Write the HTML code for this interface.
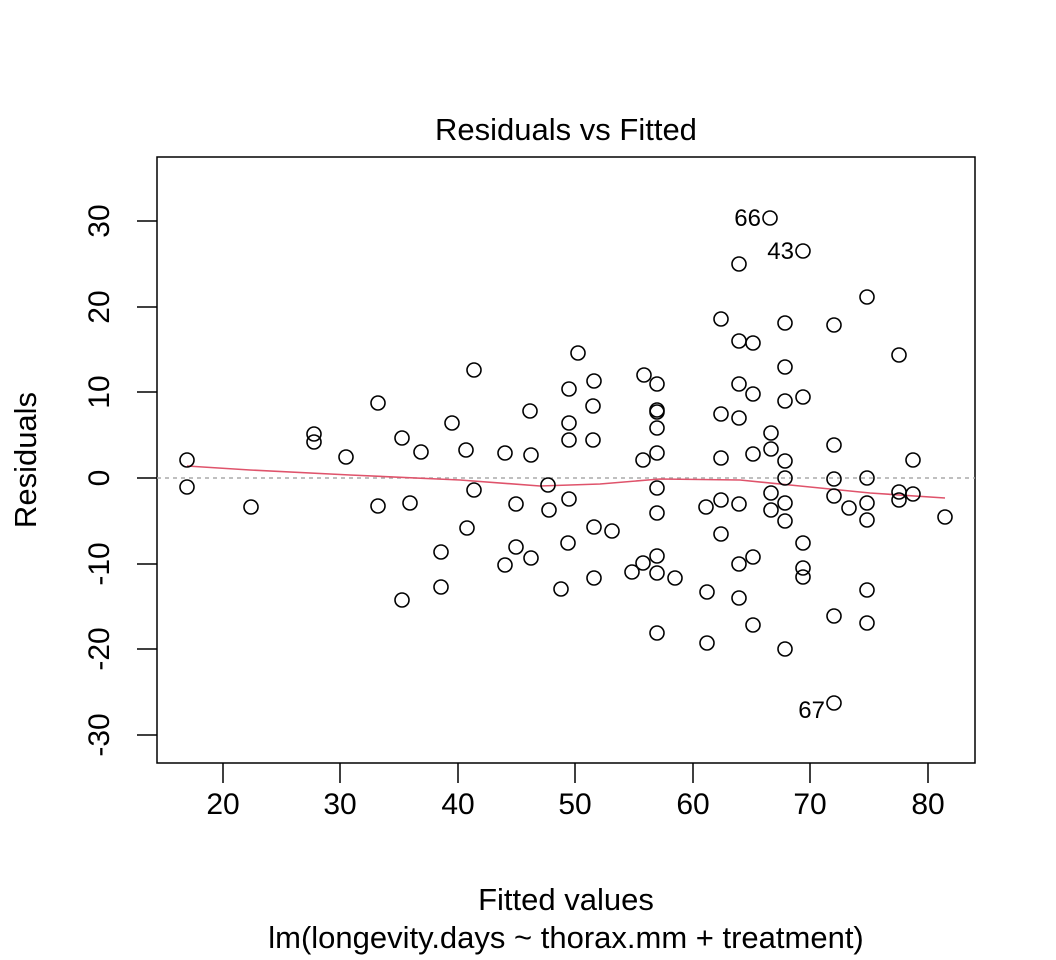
<!DOCTYPE html>
<html><head><meta charset="utf-8"><style>body{margin:0;background:#fff}svg{display:block}text{font-family:"Liberation Sans",sans-serif;fill:#000}</style></head>
<body>
<svg width="1056" height="960" viewBox="0 0 1056 960" xmlns="http://www.w3.org/2000/svg">
<rect x="157" y="157" width="818" height="606" fill="none" stroke="#000" stroke-width="1.5"/>
<g stroke="#000" stroke-width="1.5">
<line x1="223" y1="763" x2="223" y2="783"/><line x1="340" y1="763" x2="340" y2="783"/><line x1="458" y1="763" x2="458" y2="783"/><line x1="575" y1="763" x2="575" y2="783"/><line x1="693" y1="763" x2="693" y2="783"/><line x1="810" y1="763" x2="810" y2="783"/><line x1="928" y1="763" x2="928" y2="783"/>
<line x1="137" y1="735" x2="157" y2="735"/><line x1="137" y1="649" x2="157" y2="649"/><line x1="137" y1="564" x2="157" y2="564"/><line x1="137" y1="478" x2="157" y2="478"/><line x1="137" y1="392" x2="157" y2="392"/><line x1="137" y1="307" x2="157" y2="307"/><line x1="137" y1="221" x2="157" y2="221"/>
</g>
<g font-size="30" text-anchor="middle">
<text x="223" y="814">20</text><text x="340" y="814">30</text><text x="458" y="814">40</text><text x="575" y="814">50</text><text x="693" y="814">60</text><text x="810" y="814">70</text><text x="928" y="814">80</text>
</g>
<g font-size="30" text-anchor="middle">
<text transform="translate(109,735) rotate(-90)">-30</text>
<text transform="translate(109,649) rotate(-90)">-20</text>
<text transform="translate(109,564) rotate(-90)">-10</text>
<text transform="translate(109,478) rotate(-90)">0</text>
<text transform="translate(109,392) rotate(-90)">10</text>
<text transform="translate(109,307) rotate(-90)">20</text>
<text transform="translate(109,221) rotate(-90)">30</text>
</g>
<text x="566" y="140" font-size="31" text-anchor="middle">Residuals vs Fitted</text>
<text x="566" y="910" font-size="31" text-anchor="middle">Fitted values</text>
<text x="566" y="948" font-size="31" text-anchor="middle">lm(longevity.days ~ thorax.mm + treatment)</text>
<text transform="translate(36,460) rotate(-90)" font-size="31" text-anchor="middle">Residuals</text>
<line x1="157" y1="478" x2="975" y2="478" stroke="#aaa" stroke-width="1.5" stroke-dasharray="4,4"/>
<polyline fill="none" stroke="#DF536B" stroke-width="1.6" points="187,466 250,470 350,475 460,480 540,486 600,484 660,479 740,480 800,486 870,493 945,498"/>
<g fill="none" stroke="#000" stroke-width="1.6">
<circle cx="187" cy="460" r="7"/><circle cx="187" cy="487" r="7"/><circle cx="251" cy="507" r="7"/><circle cx="314" cy="434" r="7"/><circle cx="314" cy="442" r="7"/><circle cx="346" cy="457" r="7"/><circle cx="378" cy="403" r="7"/><circle cx="378" cy="506" r="7"/><circle cx="402" cy="438" r="7"/><circle cx="402" cy="600" r="7"/><circle cx="410" cy="503" r="7"/><circle cx="421" cy="452" r="7"/><circle cx="441" cy="552" r="7"/><circle cx="441" cy="587" r="7"/><circle cx="452" cy="423" r="7"/><circle cx="466" cy="450" r="7"/><circle cx="467" cy="528" r="7"/><circle cx="474" cy="370" r="7"/><circle cx="474" cy="490" r="7"/><circle cx="505" cy="453" r="7"/><circle cx="505" cy="565" r="7"/><circle cx="516" cy="504" r="7"/><circle cx="516" cy="547" r="7"/><circle cx="530" cy="411" r="7"/><circle cx="531" cy="455" r="7"/><circle cx="531" cy="558" r="7"/><circle cx="548" cy="485" r="7"/><circle cx="549" cy="510" r="7"/><circle cx="561" cy="589" r="7"/><circle cx="568" cy="543" r="7"/><circle cx="569" cy="499" r="7"/><circle cx="569" cy="440" r="7"/><circle cx="569" cy="423" r="7"/><circle cx="569" cy="389" r="7"/><circle cx="578" cy="353" r="7"/><circle cx="593" cy="440" r="7"/><circle cx="593" cy="406" r="7"/><circle cx="594" cy="381" r="7"/><circle cx="594" cy="578" r="7"/><circle cx="594" cy="527" r="7"/><circle cx="612" cy="531" r="7"/><circle cx="632" cy="572" r="7"/><circle cx="643" cy="563" r="7"/><circle cx="643" cy="460" r="7"/><circle cx="644" cy="375" r="7"/><circle cx="657" cy="384" r="7"/><circle cx="657" cy="410" r="7"/><circle cx="657" cy="412" r="7"/><circle cx="657" cy="428" r="7"/><circle cx="657" cy="453" r="7"/><circle cx="657" cy="488" r="7"/><circle cx="657" cy="513" r="7"/><circle cx="657" cy="556" r="7"/><circle cx="657" cy="573" r="7"/><circle cx="657" cy="633" r="7"/><circle cx="675" cy="578" r="7"/><circle cx="706" cy="507" r="7"/><circle cx="707" cy="592" r="7"/><circle cx="707" cy="643" r="7"/><circle cx="721" cy="319" r="7"/><circle cx="721" cy="414" r="7"/><circle cx="721" cy="458" r="7"/><circle cx="721" cy="500" r="7"/><circle cx="721" cy="534" r="7"/><circle cx="739" cy="264" r="7"/><circle cx="739" cy="341" r="7"/><circle cx="739" cy="384" r="7"/><circle cx="739" cy="418" r="7"/><circle cx="739" cy="504" r="7"/><circle cx="739" cy="564" r="7"/><circle cx="739" cy="598" r="7"/><circle cx="753" cy="343" r="7"/><circle cx="753" cy="394" r="7"/><circle cx="753" cy="454" r="7"/><circle cx="753" cy="557" r="7"/><circle cx="753" cy="625" r="7"/><circle cx="770" cy="218" r="7"/><circle cx="771" cy="433" r="7"/><circle cx="771" cy="449" r="7"/><circle cx="771" cy="493" r="7"/><circle cx="771" cy="510" r="7"/><circle cx="785" cy="323" r="7"/><circle cx="785" cy="367" r="7"/><circle cx="785" cy="401" r="7"/><circle cx="785" cy="461" r="7"/><circle cx="785" cy="478" r="7"/><circle cx="785" cy="503" r="7"/><circle cx="785" cy="521" r="7"/><circle cx="785" cy="649" r="7"/><circle cx="803" cy="251" r="7"/><circle cx="803" cy="397" r="7"/><circle cx="803" cy="543" r="7"/><circle cx="803" cy="568" r="7"/><circle cx="803" cy="577" r="7"/><circle cx="834" cy="325" r="7"/><circle cx="834" cy="445" r="7"/><circle cx="834" cy="479" r="7"/><circle cx="834" cy="496" r="7"/><circle cx="834" cy="616" r="7"/><circle cx="834" cy="703" r="7"/><circle cx="849" cy="508" r="7"/><circle cx="867" cy="297" r="7"/><circle cx="867" cy="478" r="7"/><circle cx="867" cy="503" r="7"/><circle cx="867" cy="520" r="7"/><circle cx="867" cy="590" r="7"/><circle cx="867" cy="623" r="7"/><circle cx="899" cy="355" r="7"/><circle cx="899" cy="492" r="7"/><circle cx="899" cy="500" r="7"/><circle cx="913" cy="460" r="7"/><circle cx="913" cy="494" r="7"/><circle cx="945" cy="517" r="7"/>
</g>
<g font-size="24" text-anchor="end">
<text x="761" y="226">66</text><text x="794" y="259">43</text><text x="825" y="718">67</text>
</g>
</svg>
</body></html>
